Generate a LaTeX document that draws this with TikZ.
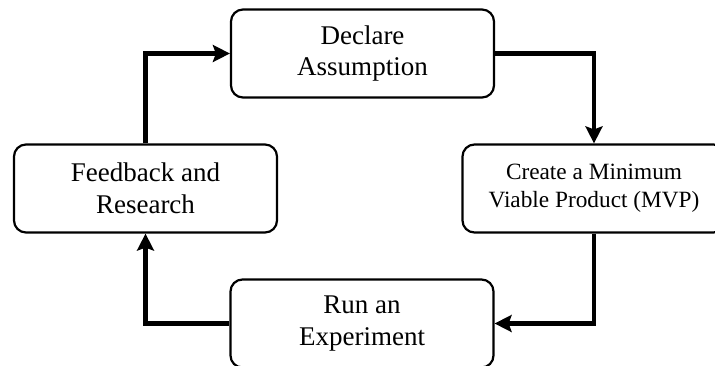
\documentclass[tikz,border=0pt]{standalone}
\usepackage{fontspec}
\setmainfont{Liberation Serif}
\usepackage{tikz}
\usetikzlibrary{arrows.meta}

\begin{document}
\begin{tikzpicture}[x=1pt,y=1pt,
    stage/.style={draw,line width=2.2pt,rounded corners=12pt,align=center,
        minimum width=263pt,minimum height=88pt,inner sep=0pt,
        font=\fontsize{27}{31.5}\selectfont},
    flow/.style={line width=4.5pt,-{Stealth[length=17pt,width=17pt,inset=3pt]}}]
                \useasboundingbox (0,0) rectangle (715,-365);
                \clip (0,0) rectangle (715,-365);
                \node[stage] (decl)  at (362.5,-53.5)  {Declare\\Assumption};
                \node[stage,font=\fontsize{23.3}{28}\selectfont] (mvp) at (594,-188.5) {Create a Minimum\\Viable Product (MVP)};
                \node[stage] (exper) at (362,-323.5)   {Run an\\Experiment};
                \node[stage] (feed)  at (145.5,-188.5) {Feedback and\\Research};
                \draw[flow] (feed.north) |- (decl.west);
                \draw[flow] (decl.east) -| (mvp.north);
                \draw[flow] (mvp.south) |- (exper.east);
                \draw[flow] (exper.west) -| (feed.south);
            \end{tikzpicture}
\end{document}
